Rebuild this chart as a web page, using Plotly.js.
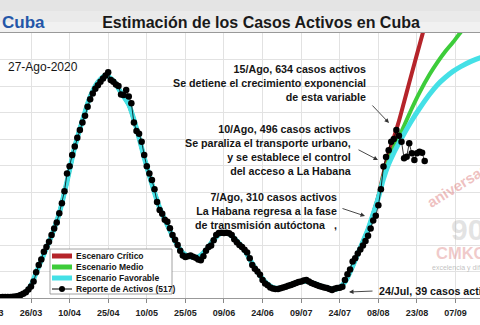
<!DOCTYPE html>
<html><head><meta charset="utf-8">
<script src="https://cdn.plot.ly/plotly-3.0.1.min.js"></script>
<style>
html,body{margin:0;padding:0;overflow:hidden;background:#fff;width:480px;height:325px}
#chart{position:absolute;left:-40px;top:0;width:560px;height:325px}
</style>
</head><body><div id="chart"></div>
<script>
// ---------- DATA ----------
const startDate = '2020-03-11'; // day 0 of the daily report
const activeCases = [
  3,3,3,3,4,4,4,4,5,6,
  8,11,16,22,32,43,62,97,125,145,
  175,192,212,238,262,285,320,358,403,470,
  497,540,572,605,634,662,688,722,750,772,
  790,803,816,828,840,852,823,816,806,800,
  768,766,785,760,735,662,630,620,590,540,
  497,470,445,410,362,332,318,295,288,263,
  238,220,200,178,160,155,158,160,156,152,
  145,142,158,178,192,198,218,238,245,246,
  245,246,244,238,222,210,200,192,182,172,
  150,125,110,100,88,68,55,48,40,36,
  34,34,37,40,42,46,49,53,57,60,
  62,66,68,62,57,53,49,45,42,40,
  38,34,30,35,38,39,42,68,90,108,
  138,150,168,183,198,215,235,262,292,310,
  350,410,496,532,558,590,600,634,612,590,
  527,533,584,546,521,546,552,548,517
];
// fitted model (shared history of the three scenarios), days since startDate
const fitDays   = [0,5,10,13,15,17,20,23,26,29,32,35,38,41,44,47,50,53,56,59,62,65,68,71,74,77,80,83,86,89,92,95,98,101,104,107,110,113,116,119,122,125,128,131,134,137,140,143,146,148];
const fitValues = [0,2,8,22,48,95,165,235,320,440,570,670,760,815,840,820,775,730,640,530,430,340,275,215,170,155,155,180,220,245,242,215,180,130,85,52,37,40,50,60,63,55,44,36,34,60,120,190,260,318];
// projections
const criticalDays    = [150,152,154,156,158,160,162,164,166,168,170];
const criticalValues  = [385,470,545,605,668,740,812,884,955,1025,1095];
const mediumDays      = [150,152,154,156,158,160,163,166,170,173,176,179,182,185,188];
const mediumValues    = [380,460,520,568,607,650,715,775,845,890,930,965,1003,1040,1075];
const favorableDays   = [150,152,154,156,158,160,163,166,170,173,176,179,182,186,190,195,200,206];
const favorableValues = [378,450,505,548,585,620,670,715,770,805,832,855,873,893,908,922,932,940];

const tickDates  = ['2020-03-11','2020-03-26','2020-04-10','2020-04-25','2020-05-10','2020-05-25','2020-06-09','2020-06-24','2020-07-09','2020-07-24','2020-08-08','2020-08-23','2020-09-07','2020-09-22'];
const tickLabels = ['11/03','26/03','10/04','25/04','10/05','25/05','09/06','24/06','09/07','24/07','08/08','23/08','07/09','22/09'];
const seriesNames  = ['Escenaro Crítico','Escenario Medio','Escenario Favorable','Reporte de Activos (517)'];
const seriesColors = ['#b5242a','#3dcc3a','#44e0e6','#000000'];

// ---------- HELPERS ----------
const t0 = Date.parse(startDate + 'T00:00:00Z');
const dayToDate = d => new Date(t0 + d * 86400000).toISOString().slice(0,19).replace('T',' ');
const L = 40, W = 560, H = 325, plotTop = 33, plotBottom = 298;
const px = s => (s + L) / W;
const py = s => (plotBottom - s) / (plotBottom - plotTop);

const scen = (days, vals) => ({
  x: fitDays.concat(days).map(dayToDate),
  y: fitValues.concat(vals)
});

const traces = [];
[[criticalDays,criticalValues,4],[mediumDays,mediumValues,4],[favorableDays,favorableValues,5]].forEach((s,i)=>{
  const d = scen(s[0], s[1]);
  traces.push({type:'scatter', mode:'lines', x:d.x, y:d.y, name:seriesNames[i],
    line:{color:seriesColors[i], width:s[2], shape:'spline', smoothing:0.8}, hoverinfo:'skip'});
});
traces.push({type:'scatter', mode:'lines+markers', name:seriesNames[3],
  x: activeCases.map((v,i)=>dayToDate(i)), y: activeCases,
  line:{color:'#000', width:0.8}, marker:{color:'#000', size:6.5}});

// ---------- ANNOTATIONS ----------
const bold = {family:'Arial, Liberation Sans, sans-serif', size:10.7, color:'#151515'};
const ann = [];
const txt = (t, x, y, xa, extra) => ann.push(Object.assign({text:t, x:px(x), y:py(y), xref:'paper', yref:'paper',
  xanchor:xa, yanchor:'middle', showarrow:false, font:bold, align:xa==='left'?'left':'right'}, extra||{}));
txt('<b>15/Ago, 634 casos activos<br>Se detiene el crecimiento exponencial<br>de esta variable</b>', 368, 83.5, 'right');
txt('<b>10/Ago, 496 casos activos<br>Se paraliza el transporte urbano,<br>y se establece el control<br>del acceso a La Habana</b>', 354, 150, 'right');
txt('<b>7/Ago, 310 casos activos<br>La Habana regresa a la fase<br>de transmisión autóctona\u00a0\u00a0\u00a0,</b>', 339, 211, 'right');
txt('<b>24/Jul, 39 casos activos</b>', 377, 291, 'left');
txt('27-Ago-2020', 6, 67, 'left', {font:{family:'Arial, Liberation Sans, sans-serif', size:12, color:'#151515'}});
txt('<b>Cuba</b>', 0, 22, 'left', {font:{family:'Arial, Liberation Sans, sans-serif', size:17, color:'#2456a8'}});

const arrow = (tx,ty,hx,hy) => ann.push({text:'', x:px(hx), y:py(hy), xref:'paper', yref:'paper',
  ax:tx-hx, ay:ty-hy, showarrow:true, arrowhead:2, arrowsize:1, arrowwidth:0.9, arrowcolor:'#333'});
arrow(371,104,389,123);
arrow(357,149,378,160);
arrow(341,208,365,216);
arrow(374,291,349,292);

// watermark
txt('<b>aniversario</b>', 462, 182, 'center', {textangle:-32, font:{family:'Arial', size:15, color:'rgba(222,130,130,0.5)'}});
txt('<b>90</b>', 449, 229, 'left', {font:{family:'Arial', size:30, color:'rgba(175,175,175,0.35)'}});
txt('<b>CMKC</b>', 434, 253, 'left', {font:{family:'Arial', size:16.5, color:'rgba(226,150,150,0.5)'}});
txt('excelencia y difusión', 430, 268, 'left', {font:{family:'Arial', size:7, color:'rgba(150,150,150,0.6)'}});

// custom legend
const shapes = [];
// top gray band
[[0,11,'#e4e4e4'],[11,22,'#eaeaea'],[22,33,'#f1f1f1']].forEach(b=>shapes.push({type:'rect', xref:'paper', yref:'paper',
  x0:0, x1:1, y0:py(b[1]), y1:py(b[0]), fillcolor:b[2], line:{width:0}, layer:'below'}));
shapes.push({type:'rect', xref:'paper', yref:'paper', x0:px(50), x1:px(172), y0:py(294), y1:py(249),
  fillcolor:'#fff', line:{color:'#8a8a8a', width:0.8}, layer:'above'});
const rows = [256, 267, 278, 289];
rows.forEach((r,i)=>{
  shapes.push({type:'line', xref:'paper', yref:'paper', x0:px(52), x1:px(72), y0:py(r), y1:py(r),
    line:{color:seriesColors[i], width:i<3?5:1}, layer:'above'});
  ann.push({text:'<b>'+seriesNames[i]+'</b>', x:px(74), y:py(r), xref:'paper', yref:'paper', xanchor:'left', yanchor:'middle',
    showarrow:false, font:{family:'Arial, Liberation Sans, sans-serif', size:8.5, color:'#151515'}});
});
shapes.push({type:'circle', xref:'paper', yref:'paper', x0:px(59), x1:px(65), y0:py(292), y1:py(286),
  fillcolor:'#000', line:{width:0}, layer:'above'});

const layout = {
  width: W, height: H,
  margin:{l:0, r:0, t:plotTop, b:H-plotBottom, pad:0},
  paper_bgcolor:'#fff', plot_bgcolor:'#fff',
  showlegend:false,
  title:{text:'<b>Estimación de los Casos Activos en Cuba</b>', font:{family:'Arial, Liberation Sans, sans-serif', size:16, color:'#1a1a1a'},
    xref:'paper', x:px(261), xanchor:'center', yref:'container', y:1-22/H, yanchor:'middle'},
  xaxis:{type:'date', range:['2020-02-27 09:45','2020-10-02 01:12'], tickmode:'array', tickvals:tickDates, ticktext:tickLabels,
    ticks:'outside', ticklen:4, tickcolor:'#888', showgrid:true, gridcolor:'#e2e2e2', gridwidth:1,
    showline:true, linecolor:'#999', linewidth:1, mirror:true, zeroline:false, ticklabelstandoff:2,
    tickfont:{family:'Arial, Liberation Sans, sans-serif', size:9, color:'#222', weight:'bold'}},
  yaxis:{range:[0,1000], dtick:100, showticklabels:false, ticks:'', showgrid:true, gridcolor:'#e2e2e2', zeroline:false, showline:false},
  annotations: ann,
  shapes: shapes
};
Plotly.newPlot('chart', traces, layout, {staticPlot:true, displayModeBar:false});
</script>
</body></html>
